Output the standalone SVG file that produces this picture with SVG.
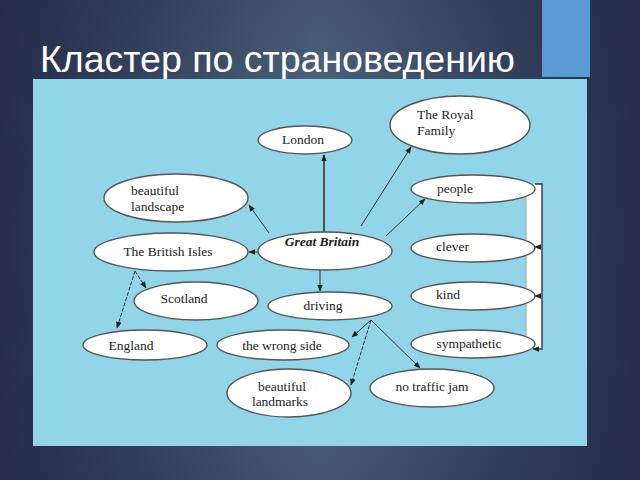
<svg xmlns="http://www.w3.org/2000/svg" width="640" height="480" viewBox="0 0 640 480">
<defs>
<linearGradient id="bg" x1="0" y1="0" x2="1" y2="0">
<stop offset="0" stop-color="#27304e"/>
<stop offset="0.5" stop-color="#4a5f78"/>
<stop offset="1" stop-color="#27304e"/>
</linearGradient>
<radialGradient id="vg" cx="0.5" cy="0.5" r="0.7">
<stop offset="0.5" stop-color="#1e2540" stop-opacity="0"/>
<stop offset="1" stop-color="#1e2540" stop-opacity="0.35"/>
</radialGradient>
<marker id="ah" viewBox="0 0 10 10" refX="9" refY="5" markerWidth="7" markerHeight="7" orient="auto" markerUnits="userSpaceOnUse">
<path d="M0,1 L10,5 L0,9 Z" fill="#222"/>
</marker>
<style>
.n ellipse{fill:#fff;stroke:#555;stroke-width:1.4}
.n text{font-family:"Liberation Serif","Times New Roman",serif;font-size:13.5px;fill:#222}
.c line,.c path{stroke:#333;stroke-width:1;fill:none;marker-end:url(#ah)}
.d{stroke-dasharray:4 1.5}
</style>
</defs>
<rect width="640" height="480" fill="url(#bg)"/>
<rect width="640" height="480" fill="url(#vg)"/>
<rect x="542" y="0" width="48" height="77" fill="#5b9bd5"/>
<text x="40" y="72" font-family="'Liberation Sans',Arial,sans-serif" font-size="37" fill="#fff" textLength="475" lengthAdjust="spacingAndGlyphs">Кластер по страноведению</text>
<rect x="33" y="79" width="554" height="367" fill="#92d4e8"/>
<g id="bracket">
<rect x="526" y="184" width="16" height="166" fill="#fff"/>
<line x1="526" y1="186" x2="526" y2="350" stroke="#9aa" stroke-width="1"/>
</g>
<g class="c" id="connectors">
<line x1="324" y1="232" x2="324" y2="155" style="stroke-width:1.6"/>
<line x1="361" y1="226" x2="411" y2="147"/>
<line x1="386" y1="236" x2="425" y2="199"/>
<line x1="269" y1="233" x2="249" y2="205"/>
<line x1="258" y1="252" x2="249" y2="252"/>
<line x1="320" y1="270" x2="320" y2="291"/>
<line class="d" x1="135" y1="271" x2="146" y2="288"/>
<line class="d" x1="135" y1="271" x2="117" y2="328"/>
<line x1="371" y1="320" x2="352" y2="337"/>
<line class="d" x1="371" y1="320" x2="351" y2="385"/>
<line x1="371" y1="320" x2="420" y2="368"/>
<path d="M535,184 H542 V349 H533" style="stroke-width:1.4"/>
</g>
<g class="n" id="london"><ellipse cx="305" cy="140" rx="47" ry="14"/><text x="282" y="144">London</text></g>
<g class="n" id="royal"><ellipse cx="460" cy="125" rx="70" ry="29"/><text x="417" y="119">The Royal</text><text x="417" y="135">Family</text></g>
<g class="n" id="landscape"><ellipse cx="176" cy="198" rx="72" ry="24"/><text x="131" y="195">beautiful</text><text x="131" y="211">landscape</text></g>
<g class="n" id="isles"><ellipse cx="171" cy="252" rx="77" ry="19"/><text x="168" y="256" text-anchor="middle">The British Isles</text></g>
<g class="n" id="gb"><ellipse cx="325" cy="251" rx="67" ry="19"/><text x="322" y="246" text-anchor="middle" font-weight="bold" font-style="italic">Great Britain</text></g>
<g class="n" id="people"><ellipse cx="473" cy="189" rx="62" ry="14"/><text x="437" y="193">people</text></g>
<g class="n" id="clever"><ellipse cx="473" cy="248" rx="62" ry="14"/><text x="436" y="251">clever</text></g>
<g class="n" id="kind"><ellipse cx="473" cy="296" rx="62" ry="14"/><text x="436" y="299">kind</text></g>
<g class="n" id="sympathetic"><ellipse cx="473" cy="344" rx="62" ry="14"/><text x="469" y="348" text-anchor="middle">sympathetic</text></g>
<g class="n" id="driving"><ellipse cx="330" cy="306" rx="62" ry="14"/><text x="323" y="310" text-anchor="middle">driving</text></g>
<g class="n" id="scotland"><ellipse cx="196" cy="301" rx="62" ry="19"/><text x="184" y="303" text-anchor="middle">Scotland</text></g>
<g class="n" id="england"><ellipse cx="145" cy="345" rx="62" ry="15"/><text x="131" y="350" text-anchor="middle">England</text></g>
<g class="n" id="wrongside"><ellipse cx="283" cy="345" rx="66" ry="15"/><text x="282" y="350" text-anchor="middle">the wrong side</text></g>
<g class="n" id="landmarks"><ellipse cx="289" cy="393" rx="62" ry="24"/><text x="282" y="391" text-anchor="middle">beautiful</text><text x="280" y="406" text-anchor="middle">landmarks</text></g>
<g class="n" id="traffic"><ellipse cx="432" cy="388" rx="62" ry="19"/><text x="432" y="391" text-anchor="middle">no traffic jam</text></g>
<g class="c" id="bracket-arrows">
<line x1="540" y1="247" x2="535" y2="247"/>
<line x1="540" y1="296" x2="535" y2="296"/>
</g>
</svg>
